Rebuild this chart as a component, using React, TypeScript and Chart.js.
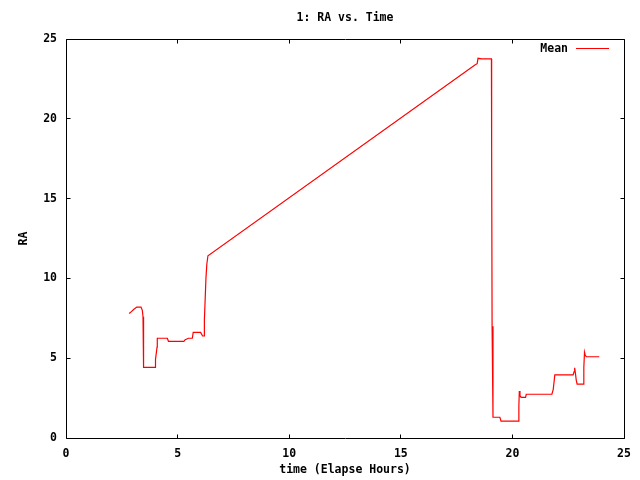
import React, { useEffect, useRef } from "react";
import { Chart, registerables } from "chart.js";

Chart.register(...registerables);

const titleText = "1: RA vs. Time";
const seriesName = "Mean";
const xTitle = "time (Elapse Hours)";
const yTitle = "RA";
const xTicks = [0, 5, 10, 15, 20, 25];
const yTicks = [0, 5, 10, 15, 20, 25];

const timeHours = [
  2.83, 2.93, 3.03, 3.17, 3.36, 3.42, 3.45, 3.46, 3.49, 4.0, 4.01, 4.08, 4.09,
  4.54, 4.59, 5.28, 5.34, 5.49, 5.66, 5.7, 6.03, 6.12, 6.19, 6.2, 6.27, 6.31,
  6.36, 18.32, 18.42, 18.46, 18.62, 19.06, 19.07, 19.09, 19.13, 19.44,
  19.49, 20.28, 20.29, 20.31, 20.34, 20.39, 20.59, 20.62, 21.77, 21.83, 21.9,
  22.72, 22.76, 22.79, 22.82, 22.86, 22.9, 23.19, 23.2, 23.23, 23.26, 23.31,
  23.89,
];
const raMean = [
  7.8, 7.92, 8.05, 8.2, 8.2, 8.0, 7.6, 6.1, 4.43, 4.43, 4.93, 5.7, 6.25, 6.25,
  6.06, 6.06, 6.16, 6.25, 6.25, 6.62, 6.62, 6.39, 6.39, 7.4, 10.0, 10.9, 11.42,
  23.37, 23.45, 23.79, 23.75, 23.75, 18.15, 7.0, 1.3, 1.3, 1.06, 1.06,
  2.0, 2.94, 2.65, 2.55, 2.55, 2.74, 2.74, 3.05, 3.95, 3.95, 4.15, 4.4, 4.1,
  3.63, 3.38, 3.38, 4.4, 5.37, 5.2, 5.09, 5.09,
];

const FONT_FAMILY = '"DejaVu Sans Mono", "Liberation Mono", monospace';
const FONT_SIZE = 11.5;

const gnuplotDecor = {
  id: "gnuplotDecor",
  afterDraw(chart: any) {
    const { ctx, chartArea: a, scales } = chart;
    const L = Math.floor(a.left) + 0.5;
    const R = Math.floor(a.right) + 0.5;
    const T = Math.floor(a.top) + 0.5;
    const B = Math.floor(a.bottom) + 0.5;
    ctx.save();
    ctx.strokeStyle = "#000";
    ctx.lineWidth = 1;
    ctx.beginPath();
    ctx.rect(L, T, R - L, B - T);
    const tl = 4;
    xTicks.forEach((v) => {
      const px = Math.floor(scales.x.getPixelForValue(v)) + 0.5;
      ctx.moveTo(px, B);
      ctx.lineTo(px, B - tl);
      ctx.moveTo(px, T);
      ctx.lineTo(px, T + tl);
    });
    yTicks.forEach((v) => {
      const py = Math.floor(scales.y.getPixelForValue(v)) + 0.5;
      ctx.moveTo(L, py);
      ctx.lineTo(L + tl, py);
      ctx.moveTo(R, py);
      ctx.lineTo(R - tl, py);
    });
    ctx.stroke();

    ctx.fillStyle = "#000";
    ctx.font = `bold ${FONT_SIZE}px ${FONT_FAMILY}`;
    ctx.textBaseline = "middle";
    ctx.textAlign = "center";
    ctx.fillText(titleText, (a.left + a.right) / 2, 18);

    ctx.textAlign = "right";
    ctx.fillText(seriesName, 568, 49);
    ctx.strokeStyle = "#ff0000";
    ctx.beginPath();
    ctx.moveTo(576, 48.5);
    ctx.lineTo(609, 48.5);
    ctx.stroke();
    ctx.restore();
  },
};

export default function App() {
  const ref = useRef<HTMLCanvasElement>(null);
  useEffect(() => {
    if (!ref.current) return;
    const font = { family: FONT_FAMILY, size: FONT_SIZE, weight: "bold" as const };
    const chart = new Chart(ref.current, {
      type: "line",
      data: {
        datasets: [
          {
            label: seriesName,
            data: timeHours.map((t, i) => ({ x: t, y: raMean[i] })),
            borderColor: "#ff0000",
            backgroundColor: "#ff0000",
            borderWidth: 1.2,
            pointRadius: 0,
            tension: 0,
            fill: false,
          },
        ],
      },
      options: {
        responsive: false,
        animation: false,
        events: [],
        layout: { padding: { left: 0, right: 16, top: 39, bottom: 0 } },
        plugins: {
          legend: { display: false },
          title: { display: false },
          tooltip: { enabled: false },
        },
        scales: {
          x: {
            type: "linear",
            min: 0,
            max: 25,
            afterFit: (s: any) => {
              s.height = 42;
            },
            afterBuildTicks: (s: any) => {
              s.ticks = xTicks.map((v) => ({ value: v }));
            },
            grid: { display: false, drawTicks: false },
            border: { display: false },
            ticks: { color: "#000", font, padding: 9, maxRotation: 0 },
            title: {
              display: true,
              text: xTitle,
              color: "#000",
              font,
              padding: { top: 0, bottom: 3.4 },
            },
          },
          y: {
            type: "linear",
            min: 0,
            max: 25,
            afterFit: (s: any) => {
              s.width = 66;
            },
            afterBuildTicks: (s: any) => {
              s.ticks = yTicks.map((v) => ({ value: v }));
            },
            grid: { display: false, drawTicks: false },
            border: { display: false },
            ticks: { color: "#000", font, padding: 9 },
            title: {
              display: true,
              text: yTitle,
              color: "#000",
              font,
              padding: { top: 17.4, bottom: 0 },
            },
          },
        },
      },
      plugins: [gnuplotDecor],
    });
    return () => chart.destroy();
  }, []);
  return (
    <div style={{ position: "fixed", left: 0, top: 0, width: 640, height: 480, background: "#fff" }}>
      <canvas ref={ref} width={640} height={480} style={{ display: "block" }} />
    </div>
  );
}
